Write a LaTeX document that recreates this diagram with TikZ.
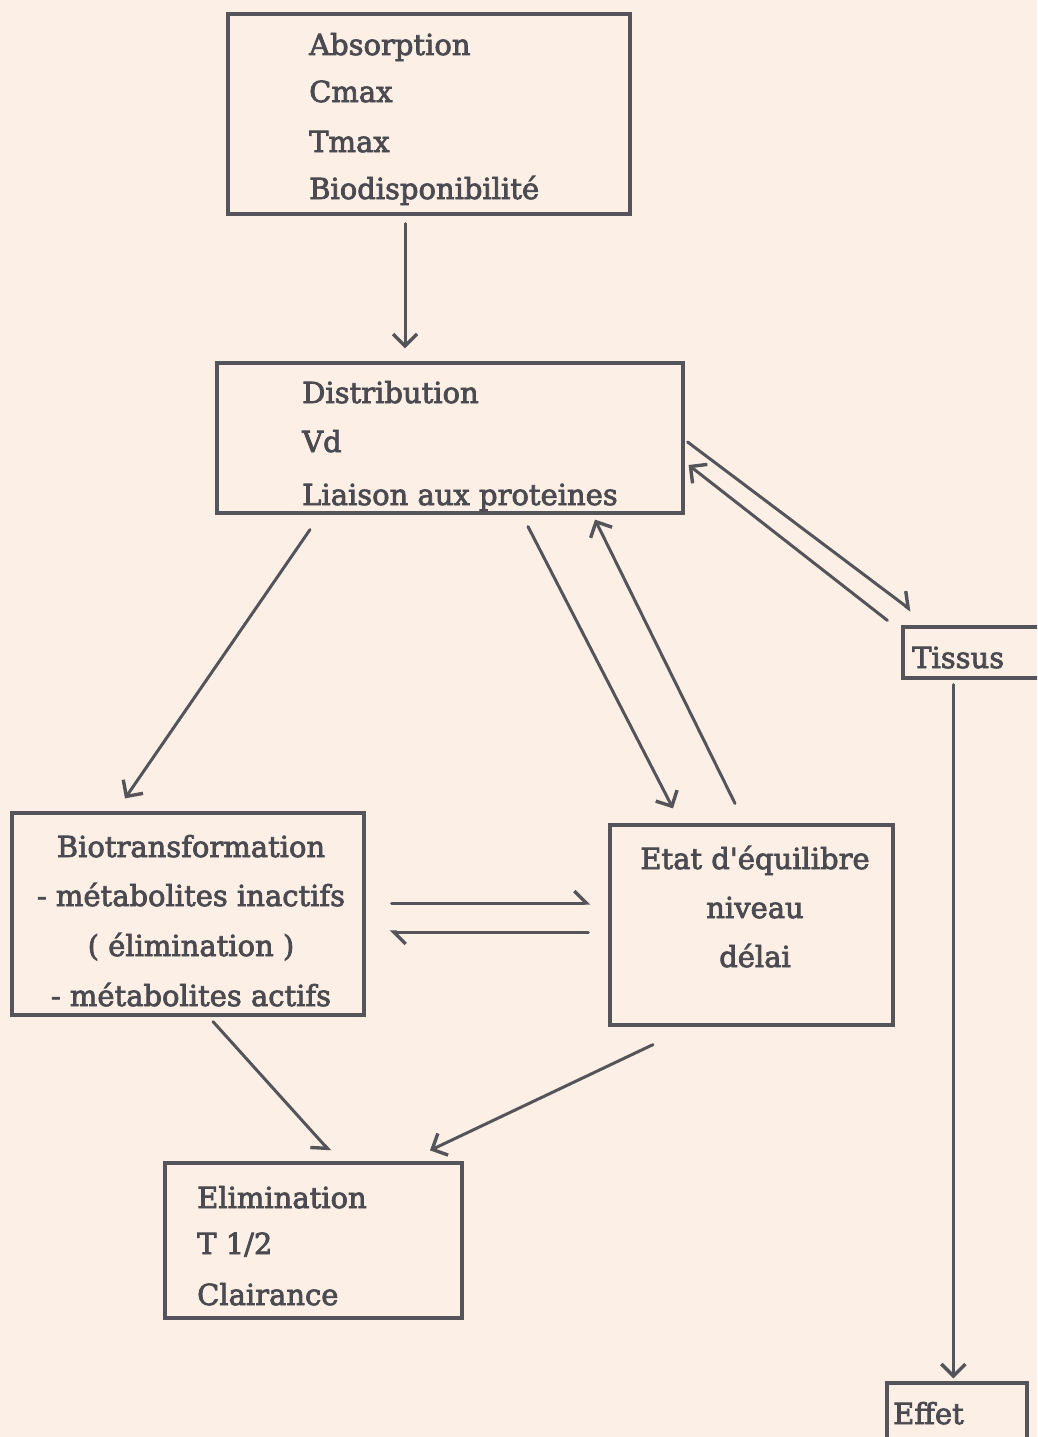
\documentclass[tikz,border=0pt]{standalone}
\usepackage{fontspec}
\setmainfont{DejaVu Serif}
\newfontfamily\lblfont{DejaVu Serif}[FakeBold=2.6]
\usetikzlibrary{arrows.meta}
\definecolor{paper}{RGB}{252,239,229}
\definecolor{ink}{RGB}{84,84,90}
\definecolor{txt}{RGB}{74,74,80}
\tikzset{
  box/.style={draw=ink, line width=3.2pt, inner sep=0pt},
  lbl/.style={text=txt, inner sep=0pt, font=\lblfont\fontsize{29}{48}\selectfont},
  arr/.style={draw=ink, line width=3pt, line cap=round,
    -{Straight Barb[length=12pt,width=24pt,line width=3.4pt]}},
  harp/.style={draw=ink, line width=3pt, line cap=round,
    -{Straight Barb[harpoon,length=12pt,width=24pt,line width=3.4pt]}},
  harpr/.style={draw=ink, line width=3pt, line cap=round,
    -{Straight Barb[harpoon,swap,length=12pt,width=24pt,line width=3.4pt]}},
}
\begin{document}
\begin{tikzpicture}[x=1pt,y=-1pt]
\useasboundingbox (0,0) rectangle (1037,1437);
\clip (0,0) rectangle (1037,1437);
\fill[paper] (0,0) rectangle (1037,1437);

% boxes
\node[box, minimum width=402pt, minimum height=200pt] (abs)  at (429,114) {};
\node[box, minimum width=466pt, minimum height=150pt] (dist) at (450,438) {};
\node[box, minimum width=150pt, minimum height=51pt]  (tis)  at (978,652.5) {};
\node[box, minimum width=140pt, minimum height=70pt]  (eff)  at (957,1418) {};
\node[box, minimum width=352pt, minimum height=202pt] (bio)  at (188,914) {};
\node[box, minimum width=283pt, minimum height=200pt] (etat) at (751.5,925) {};
\node[box, minimum width=297pt, minimum height=155pt] (elim) at (313.5,1240.5) {};

% texts
\node[lbl, anchor=base west] (absA) at (309,55)  {Absorption};
\node[lbl, anchor=base west] (absB) at (309,102) {Cmax};
\node[lbl, anchor=base west] (absC) at (309,152) {Tmax};
\node[lbl, anchor=base west] (absD) at (309,199) {Biodisponibilité};

\node[lbl, anchor=base west] (distA) at (302,403) {Distribution};
\node[lbl, anchor=base west] (distB) at (302,452) {Vd};
\node[lbl, anchor=base west] (distC) at (302,505) {Liaison aux proteines};

\node[lbl, anchor=base west] (tisA) at (912,668) {Tissus};
\node[lbl, anchor=base west] (effA) at (893,1424) {Effet};

\node[lbl, anchor=base] (bioA) at (191,857)  {Biotransformation};
\node[lbl, anchor=base] (bioB) at (191,906)  {- métabolites inactifs};
\node[lbl, anchor=base] (bioC) at (191,956)  {( élimination )};
\node[lbl, anchor=base] (bioD) at (191,1006) {- métabolites actifs};

\node[lbl, anchor=base] (etatA) at (755,869) {Etat d\textquotesingle équilibre};
\node[lbl, anchor=base] (etatB) at (755,918) {niveau};
\node[lbl, anchor=base] (etatC) at (755,967) {délai};

\node[lbl, anchor=base west] (elimA) at (197,1208) {Elimination};
\node[lbl, anchor=base west] (elimB) at (197,1254) {T 1/2};
\node[lbl, anchor=base west] (elimC) at (197,1305) {Clairance};

% connectors
\draw[arr] ([shift={(-24,8)}]abs.south) -- ([shift={(-45,-13)}]dist.north);
\draw[arr] ([shift={(-140,15)}]dist.south) -- ([shift={(-63,-13)}]bio.north);
\draw[arr] ([shift={(78,12)}]dist.south) -- ([shift={(-78.5,-15)}]etat.north);
\draw[arr] ([shift={(-16.5,-20)}]etat.north) -- ([shift={(145,5)}]dist.south);
\draw[harp] ([shift={(3,4)}]dist.east) -- ([shift={(10,-15)}]tis.north west);
\draw[arr] ([shift={(-14,-5)}]tis.north west) -- ([shift={(4,27)}]dist.east);
\draw[arr] ([shift={(52,5)}]tis.south west) -- ([shift={(68,-3)}]eff.north west);
\draw[harp] ([shift={(26,-11)}]bio.east) -- ([shift={(-18,-22)}]etat.west);
\draw[harp] ([shift={(-20,7)}]etat.west) -- ([shift={(24,18)}]bio.east);
\draw[harpr] ([shift={(25,5)}]bio.south) -- ([shift={(16.5,-10)}]elim.north);
\draw[arr] ([shift={(-98.5,18)}]etat.south) -- ([shift={(116.5,-11)}]elim.north);
\end{tikzpicture}
\end{document}
